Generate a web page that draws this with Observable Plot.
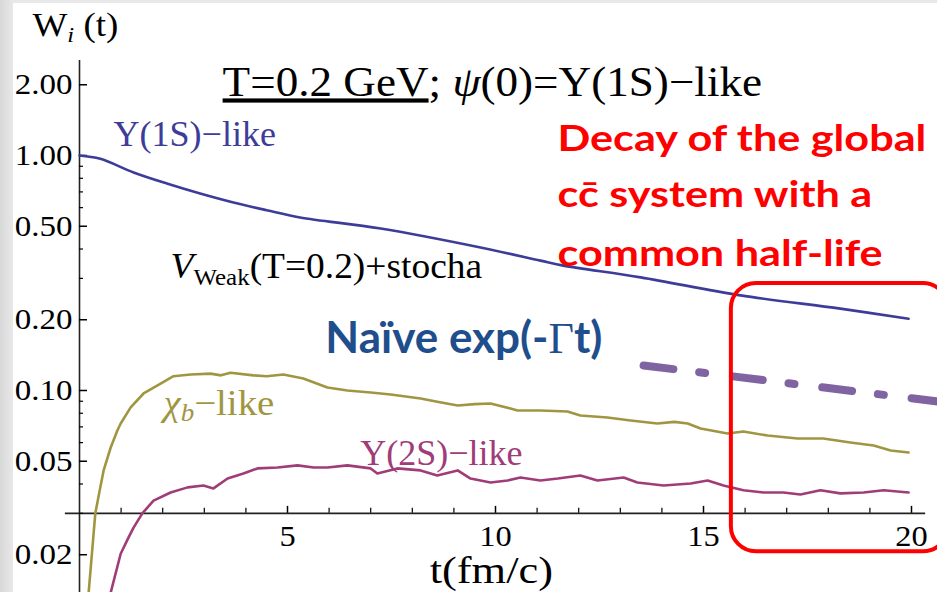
<!DOCTYPE html>
<html><head><meta charset="utf-8">
<script src="https://cdn.jsdelivr.net/npm/d3@7"></script>
<script src="https://cdn.jsdelivr.net/npm/@observablehq/plot@0.6"></script>
<style>
 body{margin:0;background:#fff}
 #wrap{position:relative;width:937px;height:592px;overflow:hidden;background:linear-gradient(to right,#d8d8d8,#e8e8e8 13px,#e8e8e8)}
 #paper{position:absolute;left:13px;top:3px;right:0;bottom:0;background:#fff}
 #chart{position:absolute;left:0;top:0}
</style></head><body>
<div id="wrap"><div id="paper"></div><div id="chart"></div></div>
<script>
// ---- data ----
const t1S = [0, 0.5, 1.3, 2.1, 2.9, 3.7, 4.5, 5.3, 7.24, 9.64, 11.08, 11.63, 13.49, 15.89, 18.29, 19.93];
const w1S = [1.0, 0.968, 0.847, 0.76, 0.689, 0.631, 0.585, 0.545, 0.489, 0.406, 0.357, 0.340, 0.303, 0.254, 0.223, 0.202];

const tChib = [0.22, 0.38, 0.5, 0.58, 0.75, 0.91, 0.99, 1.23, 1.54, 1.95, 2.26, 2.67, 3.15, 3.4, 3.63, 4.18, 4.5, 4.9, 5.38, 5.96, 6.44, 7.0, 7.48, 8.2, 8.6, 9.09, 9.5, 9.88, 10.36, 10.53, 11.08, 11.73, 12.04, 12.69, 13.25, 13.89, 14.3, 14.62, 14.93, 15.58, 15.96, 16.54, 17.26, 17.88, 18.53, 19.09, 19.5, 19.93];
const wChib = [0.0138, 0.030, 0.0387, 0.0457, 0.0572, 0.0676, 0.0724, 0.0847, 0.0971, 0.107, 0.115, 0.117, 0.118, 0.116, 0.119, 0.116, 0.115, 0.117, 0.1125, 0.103, 0.100, 0.098, 0.0961, 0.0925, 0.0895, 0.0863, 0.0875, 0.088, 0.0838, 0.0822, 0.0822, 0.0814, 0.0783, 0.0767, 0.0745, 0.0724, 0.0735, 0.0724, 0.0689, 0.0656, 0.0669, 0.0643, 0.0625, 0.0625, 0.0601, 0.0583, 0.0555, 0.0545];

const t2S = [0.75, 0.99, 1.18, 1.3, 1.51, 1.78, 2.19, 2.6, 2.98, 3.22, 3.56, 3.94, 4.28, 4.76, 5.24, 5.63, 5.96, 6.44, 7.0, 7.16, 7.64, 8.2, 8.6, 9.09, 9.4, 9.88, 10.29, 10.6, 11.08, 11.5, 12.04, 12.45, 13.08, 13.41, 14.04, 14.69, 15.1, 15.48, 15.96, 16.44, 16.92, 17.33, 17.81, 18.29, 18.85, 19.33, 19.93];
const w2S = [0.0138, 0.0202, 0.0237, 0.0261, 0.030, 0.034, 0.0368, 0.0387, 0.0394, 0.0383, 0.0422, 0.0443, 0.0466, 0.0470, 0.048, 0.047, 0.047, 0.048, 0.0466, 0.0443, 0.0466, 0.0457, 0.0435, 0.0457, 0.0422, 0.0406, 0.0414, 0.0426, 0.0414, 0.0422, 0.0435, 0.0414, 0.0426, 0.0406, 0.0394, 0.0402, 0.0414, 0.0394, 0.0376, 0.0368, 0.0368, 0.0361, 0.0376, 0.0365, 0.0368, 0.0376, 0.0368];

// naive exp(-Γt) guide line (end points) and highlighted box
const tNaive = [13.56, 20.63];
const wNaive = [0.1278, 0.0898];
const boxT = [15.67, 20.89];
const boxW = [0.0206, 0.285];

// axes
const yMajor = [0.02, 0.05, 0.1, 0.2, 0.5, 1, 2];
const yMinor = [0.03, 0.04, 0.06, 0.07, 0.08, 0.09, 0.3, 0.4, 0.6, 0.7, 0.8, 0.9];
const xMajor = [5, 10, 15, 20];
const xMinor = [1, 2, 3, 4, 6, 7, 8, 9, 11, 12, 13, 14, 16, 17, 18, 19];
const xAxisAt = 0.03;

// texts
const titleText = "T=0.2 GeV; ψ(0)=Υ(1S)−like";
const yTitle = "Wi (t)";
const xTitle = "t(fm/c)";
const label1S = "Υ(1S)−like";
const labelChib = "χb−like";
const label2S = "Υ(2S)−like";
const labelModel = "VWeak(T=0.2)+stocha";
const naiveText = "Naïve exp(-Γt)";
const redLines = ["Decay of the global", "cc\u0304 system with a", "common half-life"];

// ---- build ----
const rows = (ts, ws) => ts.map((t, i) => ({t, w: ws[i]}));
const blue = "#3d3d99", olive = "#a09642", magenta = "#a03c78";
const W = 937, H = 592, mL = 79, mR = 26, mT = 60, mB = 0;
const yDomain = [0.013814, 2.537];
const yS = Plot.scale({y: {type: "log", domain: yDomain, range: [H - mB, mT]}});
const xAxisDy = yS.apply(xAxisAt) - (H - mB);
const serif = "Liberation Serif";

const redRows = redLines.map((s, i) => ({s, t: 11.49, w: [1.05, 0.601, 0.340][i]}));

const plot = Plot.plot({
  width: W, height: H, marginLeft: mL, marginRight: mR, marginTop: mT, marginBottom: mB,
  x: {domain: [0, 20]},
  y: {type: "log", domain: yDomain},
  style: {background: "transparent", fontFamily: serif, color: "black", overflow: "visible"},
  marks: [
    Plot.ruleX([0], {stroke: "#222", strokeWidth: 1.6}),
    Plot.ruleY([xAxisAt], {x1: -0.34, x2: 20.34, stroke: "#222", strokeWidth: 1.6}),
    Plot.axisY({ticks: yMajor, tickSize: -8, tickPadding: 15, tickFormat: d3.format(".2f"), fontSize: 30, fontFamily: serif, strokeWidth: 1.5, label: null}),
    Plot.axisY({ticks: yMinor, tickSize: -4, tickFormat: () => "", strokeWidth: 1.2, label: null}),
    Plot.axisX({ticks: xMajor, tickSize: -7, dy: xAxisDy, tickFormat: () => "", strokeWidth: 1.5, label: null}),
    Plot.axisX({ticks: xMinor, tickSize: -5, dy: xAxisDy, tickFormat: () => "", strokeWidth: 1.2, label: null}),
    Plot.text(xMajor, {x: d => d, y: xAxisAt, dy: 23, text: d => String(d), fontSize: 30, fontFamily: serif}),
    Plot.text([xTitle], {x: 9.9, y: 0.0151, text: d => d, fontSize: 37, fontFamily: serif, lineAnchor: "bottom"}),
    Plot.text([yTitle], {x: -1.13, y: 3.24, text: d => d, fontSize: 33, fontFamily: serif, textAnchor: "start", lineAnchor: "bottom"}),

    Plot.line(rows(tChib, wChib), {x: "t", y: "w", stroke: olive, strokeWidth: 2.6}),
    Plot.line(rows(t2S, w2S), {x: "t", y: "w", stroke: magenta, strokeWidth: 2.6}),
    Plot.line(rows(t1S, w1S), {x: "t", y: "w", stroke: blue, strokeWidth: 2.6, curve: "catmull-rom"}),

    Plot.text([titleText], {x: 3.44, y: 1.80, text: d => d, fontSize: 42, fontFamily: serif, textAnchor: "start", lineAnchor: "bottom"}),
    Plot.text([label1S], {x: 0.82, y: 1.10, text: d => d, fill: blue, fontSize: 36, fontFamily: serif, textAnchor: "start", lineAnchor: "bottom"}),
    Plot.text([labelModel], {x: 2.19, y: 0.30, text: d => d, fill: "black", fontSize: 36, fontFamily: serif, textAnchor: "start", lineAnchor: "bottom"}),
    Plot.text([labelChib], {x: 2.02, y: 0.0783, text: d => d, fill: olive, fontSize: 36, fontFamily: serif, textAnchor: "start", lineAnchor: "bottom"}),
    Plot.text([label2S], {x: 6.75, y: 0.048, text: d => d, fill: magenta, fontSize: 36, fontFamily: serif, textAnchor: "start", lineAnchor: "bottom"}),

    Plot.line(rows(tNaive, wNaive), {x: "t", y: "w", stroke: "#8064a2", strokeWidth: 8, strokeDasharray: "30 26 6 28"}),
    Plot.rect([{x1: boxT[0], x2: boxT[1], y1: boxW[0], y2: boxW[1]}], {x1: "x1", x2: "x2", y1: "y1", y2: "y2", rx: 25, fill: "none", stroke: "#ff0000", strokeWidth: 4}),
    Plot.text([naiveText], {x: 5.91, y: 0.1437, text: d => d, fill: "#1f4e8c", fontSize: 44, fontFamily: "Lato", fontWeight: "bold", textAnchor: "start", lineAnchor: "bottom"}),
    Plot.text(redRows, {x: "t", y: "w", text: "s", fill: "#ff0000", fontSize: 36, fontFamily: "Lato", fontWeight: "bold", textAnchor: "start", lineAnchor: "bottom"})
  ]
});
document.getElementById("chart").append(plot);

// rich text (italics, subscripts, underline)
function rich(svg, full, parts) {
  d3.select(svg).selectAll("text").filter(function () { return this.textContent === full; }).each(function () {
    const el = d3.select(this);
    el.text(null);
    let shift = 0;
    for (const p of parts) {
      const ts = el.append("tspan").text(p.s);
      if (p.italic) ts.attr("font-style", "italic");
      if (p.underline) ts.style("text-decoration", "underline");
      if (p.size) ts.attr("font-size", p.size);
      if (p.family) ts.attr("font-family", p.family).attr("font-weight", "normal");
      const sh = p.sub || 0;
      if (sh !== shift) { ts.attr("dy", sh - shift); shift = sh; }
    }
  });
}
// horizontal stretch of the slide's text (the source picture is widened)
function stretch(svg, test, f) {
  d3.select(svg).selectAll("text").filter(function () { return test(this.textContent); }).each(function () {
    const tr = this.getAttribute("transform");
    if (tr) this.setAttribute("transform", tr + ` scale(${f},1)`);
  });
}
stretch(plot, s => s === titleText, 1.075);
stretch(plot, s => s === yTitle, 1.12);
stretch(plot, s => s === xTitle, 1.2);
stretch(plot, s => s === labelModel, 1.04);
stretch(plot, s => s === labelChib, 1.08);
stretch(plot, s => redLines.includes(s), 1.2);
stretch(plot, s => /^\d\.\d\d$/.test(s), 1.1);
stretch(plot, s => /^\d+$/.test(s), 1.08);

rich(plot, titleText, [{s: "T=0.2 GeV", underline: true}, {s: "; "}, {s: "ψ", italic: true}, {s: "(0)=Υ(1S)−like"}]);
rich(plot, yTitle, [{s: "W"}, {s: "i", italic: true, size: 22, sub: 6}, {s: " (t)", sub: 0}]);
rich(plot, labelModel, [{s: "V", italic: true}, {s: "Weak", size: 24, sub: 7}, {s: "(T=0.2)+stocha", sub: 0}]);
rich(plot, labelChib, [{s: "χ", italic: true}, {s: "b", italic: true, size: 25, sub: 6}, {s: "−like", sub: 0}]);
rich(plot, naiveText, [{s: "Naïve exp(-"}, {s: "Γ", family: serif}, {s: "t)"}]);
</script>
</body></html>
